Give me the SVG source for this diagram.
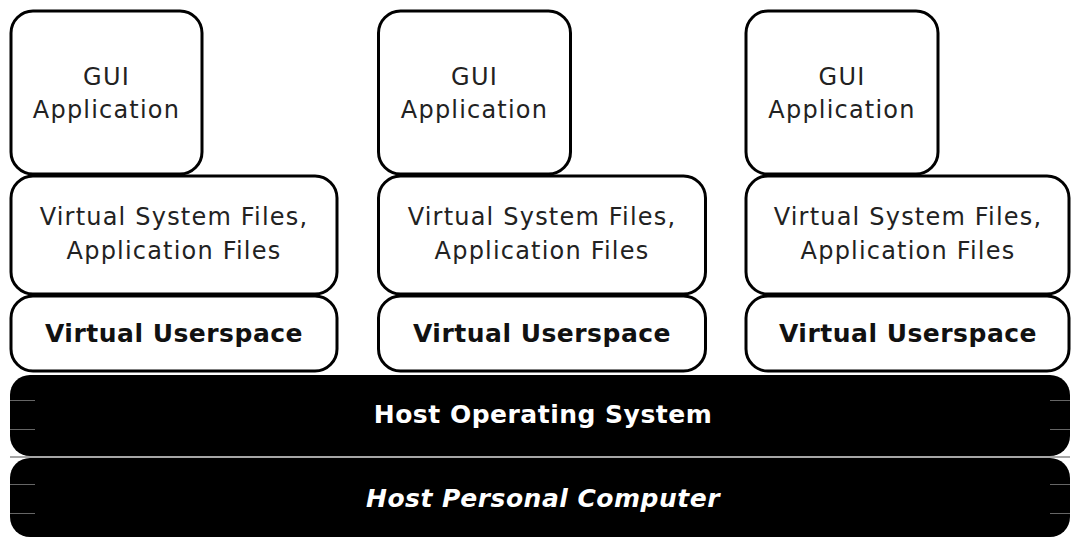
<svg xmlns="http://www.w3.org/2000/svg" width="1071" height="538" viewBox="0 0 1071 538">
<style>
.box{fill:#fff;stroke:#000;stroke-width:3}
.host{fill:#000}
.t{font-family:"DejaVu Sans",sans-serif;font-size:24px;letter-spacing:1.2px;fill:#222;text-anchor:middle}
.b{font-family:"DejaVu Sans",sans-serif;font-size:25px;font-weight:bold;letter-spacing:0.5px;fill:#111;text-anchor:middle}
.w{font-family:"DejaVu Sans",sans-serif;font-size:25px;font-weight:bold;letter-spacing:0.5px;fill:#fff;text-anchor:middle}
.tick{stroke:#666;stroke-width:1}
</style>
<g id="col1">
<g id="gui1"><rect class="box" x="11" y="11" width="191" height="163" rx="22"/><text class="t" x="106.5" y="85">GUI</text><text class="t" x="106.5" y="118">Application</text></g>
<g id="files1"><rect class="box" x="11" y="176" width="326" height="118" rx="22"/><text class="t" x="174" y="225">Virtual System Files,</text><text class="t" x="174" y="259">Application Files</text></g>
<g id="user1"><rect class="box" x="11" y="296" width="326" height="75" rx="22"/><text class="b" x="174" y="342">Virtual Userspace</text></g>
</g>
<g id="col2">
<g id="gui2"><rect class="box" x="378.5" y="11" width="192" height="163" rx="22"/><text class="t" x="474.5" y="85">GUI</text><text class="t" x="474.5" y="118">Application</text></g>
<g id="files2"><rect class="box" x="378.5" y="176" width="327" height="118" rx="22"/><text class="t" x="542" y="225">Virtual System Files,</text><text class="t" x="542" y="259">Application Files</text></g>
<g id="user2"><rect class="box" x="378.5" y="296" width="327" height="75" rx="22"/><text class="b" x="542" y="342">Virtual Userspace</text></g>
</g>
<g id="col3">
<g id="gui3"><rect class="box" x="746" y="11" width="192" height="163" rx="22"/><text class="t" x="842" y="85">GUI</text><text class="t" x="842" y="118">Application</text></g>
<g id="files3"><rect class="box" x="746" y="176" width="323" height="118" rx="22"/><text class="t" x="908" y="225">Virtual System Files,</text><text class="t" x="908" y="259">Application Files</text></g>
<g id="user3"><rect class="box" x="746" y="296" width="323" height="75" rx="22"/><text class="b" x="908" y="342">Virtual Userspace</text></g>
</g>
<g id="hostos"><rect class="host" x="10" y="375" width="1060" height="81" rx="20"/>
<line class="tick" x1="10" y1="400.5" x2="35" y2="400.5"/><line class="tick" x1="10" y1="429.5" x2="35" y2="429.5"/>
<line class="tick" x1="1050" y1="400.5" x2="1070" y2="400.5"/><line class="tick" x1="1050" y1="429.5" x2="1070" y2="429.5"/>
<text class="w" x="543" y="423">Host Operating System</text></g>
<line x1="10" y1="457" x2="1070" y2="457" stroke="#888" stroke-width="1.5"/>
<g id="hostpc"><rect class="host" x="10" y="458" width="1060" height="79" rx="20"/>
<line class="tick" x1="10" y1="484.5" x2="35" y2="484.5"/><line class="tick" x1="10" y1="513.5" x2="35" y2="513.5"/>
<line class="tick" x1="1050" y1="484.5" x2="1070" y2="484.5"/><line class="tick" x1="1050" y1="513.5" x2="1070" y2="513.5"/>
<text class="w" x="543" y="507" font-style="italic">Host Personal Computer</text></g>
<g id="connectors"/>
</svg>
